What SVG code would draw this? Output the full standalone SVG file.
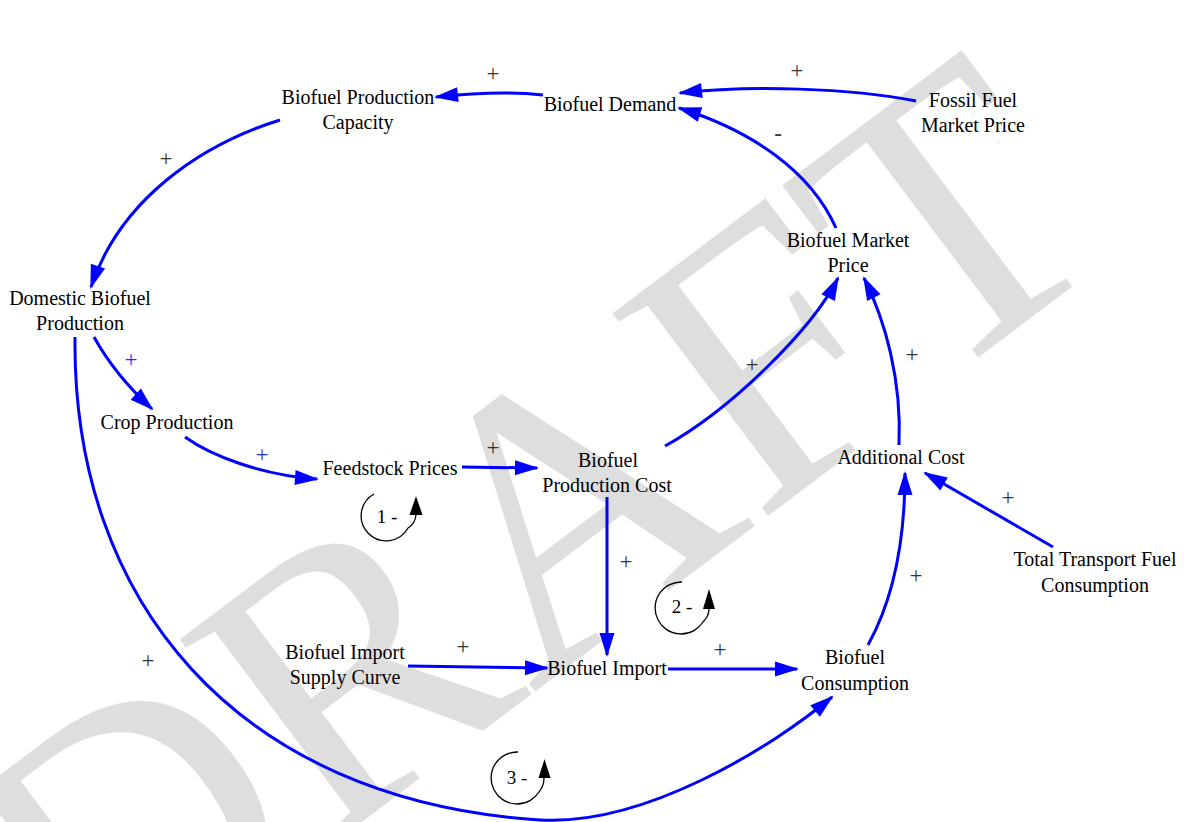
<svg xmlns="http://www.w3.org/2000/svg" width="1184" height="822" viewBox="0 0 1184 822">
<defs>
<style>
.wm { font-family: "Liberation Serif", "Times New Roman", serif; font-size: 390px; fill: #dedede; text-anchor: middle; }
.n text { font-family: "Liberation Serif", "Times New Roman", serif; font-size: 20px; fill: #000; text-anchor: middle; }
.c path { fill: none; stroke: #0000ff; stroke-width: 3; marker-end: url(#ah); }
.lbl { font-family: "Liberation Serif", "Times New Roman", serif; font-size: 23px; fill: #333; text-anchor: middle; }
.lbl.b { fill: #2b2bff; }
.loop path { fill: none; stroke: #000; stroke-width: 1.3; }
.loop polygon { fill: #000; }
.loop text { font-family: "Liberation Serif", "Times New Roman", serif; font-size: 19px; fill: #000; text-anchor: middle; }
</style>
<marker id="ah" markerUnits="userSpaceOnUse" markerWidth="26" markerHeight="16" viewBox="0 0 24 16" refX="22" refY="8" orient="auto">
<path d="M0,0.5 L24,8 L0,15.5 z" fill="#0000ff"/>
</marker>
</defs>
<rect width="1184" height="822" fill="#ffffff"/>
<text class="wm" x="610" y="635" transform="rotate(-37 610 635)">DRAFT</text>

<g id="connectors" class="c">
<path d="M543,95 Q500,90 436,97"/>
<path d="M916,101 C850,88 750,85 680,93"/>
<path d="M836,228 C810,170 750,130 679,108"/>
<path d="M280,120 C200,145 120,200 91,287"/>
<path d="M94,337 Q115,375 152,409"/>
<path d="M185,437 C210,455 260,475 317,479"/>
<path d="M462,467 L537,468"/>
<path d="M665,446 C730,410 812,330 838,278"/>
<path d="M899,445 C902,380 885,320 864,278"/>
<path d="M1053,547 L925,473"/>
<path d="M868,645 C893,600 905,540 905,473"/>
<path d="M607,497 L607,655"/>
<path d="M408,666 L547,668"/>
<path d="M668,669 L797,669"/>
<path d="M75,337 C72,600 235,800 540,820 C645,826 772,747 832,697"/>
<text class="lbl" x="493" y="81">+</text>
<text class="lbl" x="797" y="78">+</text>
<text class="lbl" x="778" y="141">-</text>
<text class="lbl" x="166" y="166">+</text>
<text class="lbl b" x="131" y="367">+</text>
<text class="lbl b" x="262" y="462">+</text>
<text class="lbl" x="493" y="455">+</text>
<text class="lbl" x="752" y="372">+</text>
<text class="lbl" x="912" y="362">+</text>
<text class="lbl" x="1008" y="505">+</text>
<text class="lbl" x="916" y="583">+</text>
<text class="lbl" x="626" y="569">+</text>
<text class="lbl" x="463" y="654">+</text>
<text class="lbl" x="720" y="657">+</text>
<text class="lbl" x="148" y="668">+</text>
</g>

<g id="node-capacity" class="n"><text x="358" y="104">Biofuel Production</text><text x="358" y="129">Capacity</text></g>
<g id="node-demand" class="n"><text x="610" y="111">Biofuel Demand</text></g>
<g id="node-fossil" class="n"><text x="973" y="107">Fossil Fuel</text><text x="973" y="132">Market Price</text></g>
<g id="node-market-price" class="n"><text x="848" y="247">Biofuel Market</text><text x="848" y="272">Price</text></g>
<g id="node-domestic" class="n"><text x="80" y="305">Domestic Biofuel</text><text x="80" y="330">Production</text></g>
<g id="node-crop" class="n"><text x="167" y="429">Crop Production</text></g>
<g id="node-feedstock" class="n"><text x="390" y="475">Feedstock Prices</text></g>
<g id="node-prod-cost" class="n"><text x="608" y="467">Biofuel</text><text x="607" y="492">Production Cost</text></g>
<g id="node-additional" class="n"><text x="901" y="464">Additional Cost</text></g>
<g id="node-total-transport" class="n"><text x="1095" y="566">Total Transport Fuel</text><text x="1095" y="592">Consumption</text></g>
<g id="node-import-supply" class="n"><text x="345" y="659">Biofuel Import</text><text x="345" y="684">Supply Curve</text></g>
<g id="node-import" class="n"><text x="607" y="675">Biofuel Import</text></g>
<g id="node-consumption" class="n"><text x="855" y="664">Biofuel</text><text x="855" y="690">Consumption</text></g>

<g id="loop-1" class="loop">
<path d="M374,494 A25,25 0 1 0 408,528 Q415,524 416,515"/>
<polygon points="416,496 409.5,515 422.5,515"/>
<text x="387" y="523">1 -</text>
</g>
<g id="loop-2" class="loop">
<path d="M682,582 A26,26 0 1 0 703,622 Q709,616 709,609"/>
<polygon points="709,589 703,609 715,609"/>
<text x="682" y="613">2 -</text>
</g>
<g id="loop-3" class="loop">
<path d="M518,752 A26,26 0 1 0 539,792 Q544,786 544,778"/>
<polygon points="544.5,759 538.5,778 550.5,778"/>
<text x="517" y="784">3 -</text>
</g>
</svg>
